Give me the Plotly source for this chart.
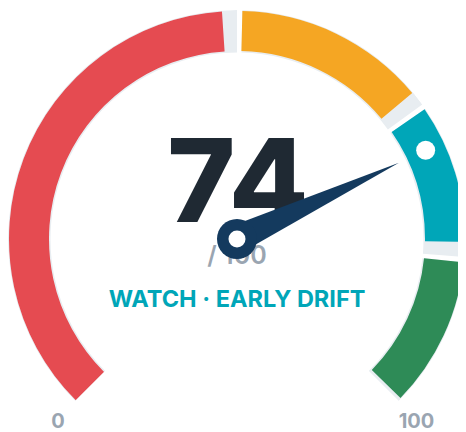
import plotly.graph_objects as go

# ---- data ----
band_starts = [0, 50, 70, 85]
band_ends = [50, 70, 85, 100]
band_colors = ["#e54b51", "#f5a623", "#00a6b8", "#2e8b57"]
track_color = "#e8edf1"
score = 74
score_max = 100
status_label = "WATCH · EARLY DRIFT"
tick_labels = ["0", "100"]

SPAN = 270.0  # gauge sweep in degrees


def deg(v):
    return v * SPAN / score_max


# the page body adds an 8px offset, so the figure is 8px smaller
W, H = 458, 424
CX, CY, R = 229, 231, 229

fig = go.Figure()

# ---- text layer (cartesian, drawn below the gauge) ----
fig.add_trace(go.Scatter(
    x=[CX + 1], y=[CY - 46.5], mode="text", text=[str(score)],
    textfont=dict(family="Inter", size=116, color="#1f2933", weight=800),
    textposition="middle center", hoverinfo="skip", showlegend=False))
fig.add_trace(go.Scatter(
    x=[CX], y=[CY + 19], mode="text", text=["/ " + str(score_max)],
    textfont=dict(family="Inter", size=25, color="#9aa5b1", weight=600),
    textposition="middle center", hoverinfo="skip", showlegend=False))
fig.add_trace(go.Scatter(
    x=[CX], y=[CY + 62], mode="text", text=[status_label],
    textfont=dict(family="Inter", size=23.5, color="#00a6b8", weight=700),
    textposition="middle center", hoverinfo="skip", showlegend=False))
fig.add_trace(go.Scatter(
    x=[50, 408.5], y=[414.5, 414.5], mode="text", text=tick_labels,
    textfont=dict(family="Inter", size=20, color="#9aa5b1", weight=700),
    textposition="middle center", hoverinfo="skip", showlegend=False))

# ---- gauge track (gray) ----
for i, (s, e) in enumerate(zip(band_starts, band_ends)):
    a = s + (0.5 if i > 0 else -0.3)
    b = e + (0.3 if i == len(band_starts) - 1 else 0.0)
    fig.add_trace(go.Barpolar(
        r=[229 - 186.5], base=[186.5], theta=[deg((a + b) / 2)], width=[deg(b - a)],
        marker=dict(color=track_color, line=dict(width=0)),
        hoverinfo="skip", showlegend=False, subplot="polar"))

# ---- colored bands ----
for i, (s, e, c) in enumerate(zip(band_starts, band_ends, band_colors)):
    a = s + (0.5 if i > 0 else 0.0)
    b = e - (1.4 if i < len(band_starts) - 1 else 0.3)
    fig.add_trace(go.Barpolar(
        r=[228 - 188], base=[188], theta=[deg((a + b) / 2)], width=[deg(b - a)],
        marker=dict(color=c, line=dict(width=0)),
        hoverinfo="skip", showlegend=False, subplot="polar"))

# ---- value marker on the band ----
fig.add_trace(go.Scatterpolar(
    r=[208.5], theta=[deg(score)], mode="markers",
    marker=dict(size=19, color="white", line=dict(width=0)),
    hoverinfo="skip", showlegend=False, subplot="polar"))

# ---- needle ----
t = deg(score)
fig.add_trace(go.Scatterpolar(
    r=[179, 14, 14, 179], theta=[t, t + 90, t - 90, t],
    mode="lines", fill="toself", fillcolor="#143a5e",
    line=dict(width=0, color="#143a5e"),
    hoverinfo="skip", showlegend=False, subplot="polar"))
fig.add_trace(go.Scatterpolar(
    r=[0], theta=[0], mode="markers",
    marker=dict(size=40, color="#143a5e", line=dict(width=0)),
    hoverinfo="skip", showlegend=False, subplot="polar"))
fig.add_trace(go.Scatterpolar(
    r=[0], theta=[0], mode="markers",
    marker=dict(size=17, color="white", line=dict(width=0)),
    hoverinfo="skip", showlegend=False, subplot="polar"))

fig.update_layout(
    width=W, height=H,
    margin=dict(l=0, r=0, t=0, b=0),
    paper_bgcolor="white", plot_bgcolor="rgba(0,0,0,0)",
    showlegend=False,
    xaxis=dict(range=[0, W], visible=False, fixedrange=True, domain=[0, 1]),
    yaxis=dict(range=[H, 0], visible=False, fixedrange=True, domain=[0, 1]),
    polar=dict(
        domain=dict(x=[(CX - R) / W, (CX + R) / W],
                    y=[(H - CY - R * 0.70711) / H, (H - CY + R) / H]),
        sector=[-45, 225],
        hole=0,
        bgcolor="rgba(0,0,0,0)",
        barmode="overlay",
        bargap=0,
        radialaxis=dict(range=[0, R], visible=False, showgrid=False),
        angularaxis=dict(visible=False, rotation=225, direction="clockwise",
                         showgrid=False),
    ),
)

fig.write_html("out.html")
